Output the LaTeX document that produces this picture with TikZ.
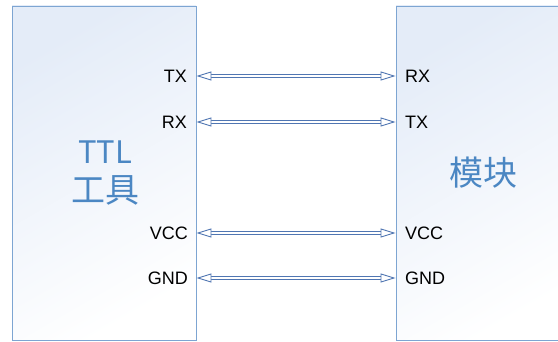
\documentclass[tikz,border=0pt]{standalone}
\usepackage{fontspec}
\setmainfont{Noto Sans CJK SC}
\newfontfamily\pinfont{Liberation Sans}
\usetikzlibrary{arrows.meta,positioning,calc}

\definecolor{boxline}{RGB}{125,165,210}
\definecolor{boxfill}{RGB}{228,236,248}
\definecolor{titleblue}{RGB}{75,135,195}
\definecolor{wireblue}{RGB}{80,118,178}

\begin{document}
\begin{tikzpicture}[
    x=1pt, y=-1pt,
    unit/.style={rectangle, draw=boxline, line width=0.9pt, minimum width=184pt, minimum height=334pt,
        shading=axis, top color=boxfill, bottom color=white, shading angle=30},
    title/.style={text=titleblue, font=\fontsize{34}{36}\selectfont, align=center},
    pin/.style={font=\pinfont\fontsize{18}{20}\selectfont, inner sep=0pt},
    wire/.style={draw=wireblue, double=white, double distance=2.2pt, line width=0.9pt,
        {Triangle[length=15pt, width=9pt, fill=white, line width=0.9pt]}-{Triangle[length=15pt, width=9pt, fill=white, line width=0.9pt]}}
]
    \useasboundingbox (0,0) rectangle (558,342);
    \clip (0,0) rectangle (558,342);

    % Boxes
    \node [unit] (ttl) at (104,173) {};
    \node [unit] (mod) at (488,173) {};
    \node [title] (ttlname) at (105,173) {{\fontsize{31}{33}\selectfont TTL}\\[3pt]工具};
    \node [title] (modname) at (483,173) {模块};

    % Pins
    \node [pin, anchor=east] (ttltx) at (187,76) {TX};
    \node [pin, anchor=east] (ttlrx) at (187,122) {RX};
    \node [pin, anchor=east] (ttlvcc) at (188,233) {VCC};
    \node [pin, anchor=east] (ttlgnd) at (188,278) {GND};
    \node [pin, anchor=west] (modrx) at (405,76) {RX};
    \node [pin, anchor=west] (modtx) at (405,122) {TX};
    \node [pin, anchor=west] (modvcc) at (405,233) {VCC};
    \node [pin, anchor=west] (modgnd) at (405,278) {GND};

    % Wires
    \draw [wire] (ttltx -| ttl.east) -- (modrx -| mod.west);
    \draw [wire] (ttlrx -| ttl.east) -- (modtx -| mod.west);
    \draw [wire] (ttlvcc -| ttl.east) -- (modvcc -| mod.west);
    \draw [wire] (ttlgnd -| ttl.east) -- (modgnd -| mod.west);

\end{tikzpicture}
\end{document}
